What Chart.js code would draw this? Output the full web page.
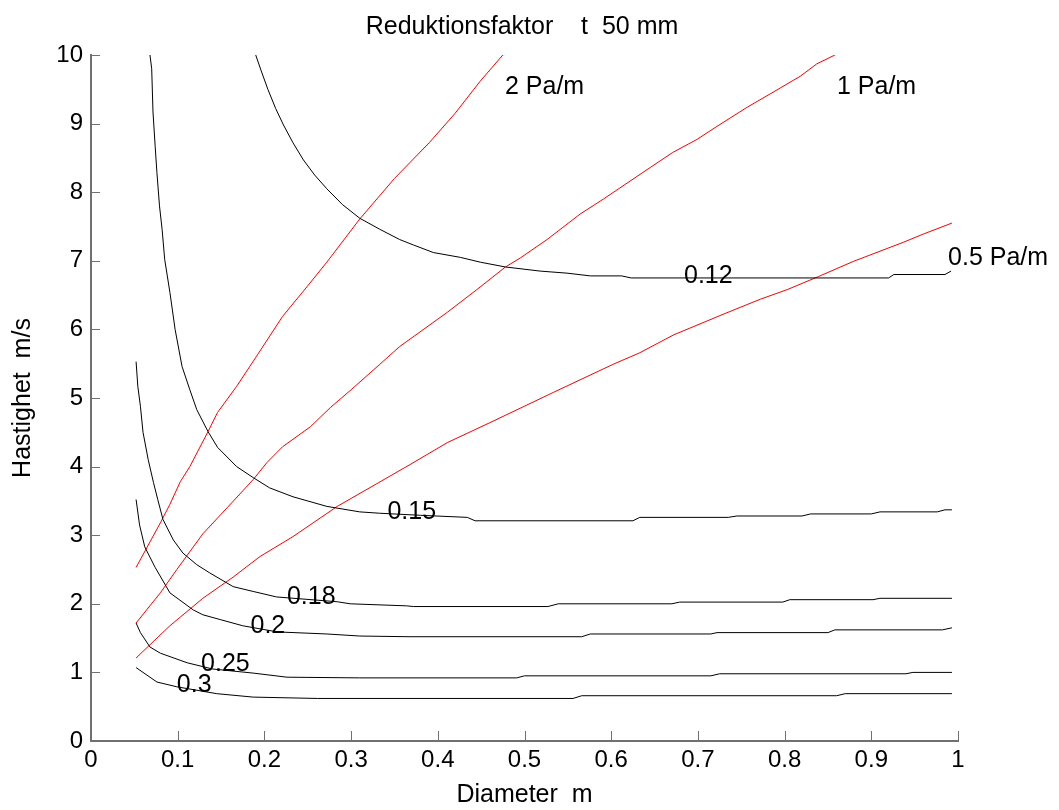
<!DOCTYPE html>
<html>
<head>
<meta charset="utf-8">
<script src="https://cdn.jsdelivr.net/npm/chart.js@4.4.1/dist/chart.umd.min.js"></script>
<style>
  html, body { margin: 0; padding: 0; background: #fff; }
  canvas { display: block; }
</style>
</head>
<body>
<canvas id="chart" width="1059" height="810"></canvas>
<script>
// contour lines, reduction factor (x = diameter m, y = velocity m/s)
const k012 = [[0.190,10],[0.196,9.78],[0.204,9.50],[0.213,9.22],[0.222,8.98],[0.233,8.72],[0.245,8.47],[0.258,8.25],[0.272,8.05],[0.290,7.82],[0.310,7.62],[0.333,7.46],[0.356,7.31],[0.372,7.23],[0.395,7.12],[0.426,7.05],[0.449,6.98],[0.478,6.91],[0.518,6.85],[0.549,6.82],[0.576,6.78],[0.612,6.78],[0.623,6.75],[0.920,6.75],[0.926,6.80],[0.985,6.80],[0.992,6.85]];
const k015 = [[0.068,10],[0.070,9.80],[0.0715,9.17],[0.074,8.67],[0.076,8.29],[0.079,7.80],[0.082,7.46],[0.085,7.02],[0.091,6.54],[0.097,6.0],[0.105,5.46],[0.114,5.12],[0.122,4.83],[0.135,4.51],[0.146,4.28],[0.168,4.0],[0.187,3.84],[0.206,3.69],[0.233,3.56],[0.272,3.42],[0.310,3.34],[0.333,3.32],[0.380,3.29],[0.434,3.26],[0.443,3.21],[0.625,3.21],[0.633,3.26],[0.735,3.26],[0.745,3.28],[0.820,3.28],[0.830,3.31],[0.900,3.31],[0.910,3.34],[0.976,3.34],[0.985,3.37],[0.993,3.37]];
const k018 = [[0.052,5.53],[0.054,5.17],[0.057,4.88],[0.060,4.50],[0.066,4.10],[0.072,3.77],[0.077,3.52],[0.083,3.23],[0.095,2.93],[0.106,2.74],[0.122,2.57],[0.137,2.45],[0.164,2.25],[0.187,2.18],[0.214,2.10],[0.284,2.03],[0.299,2.0],[0.364,1.97],[0.372,1.96],[0.527,1.96],[0.539,2.0],[0.670,2.0],[0.679,2.025],[0.798,2.025],[0.806,2.06],[0.902,2.06],[0.910,2.08],[0.993,2.08]];
const k020 = [[0.052,3.52],[0.056,3.15],[0.062,2.83],[0.074,2.53],[0.091,2.16],[0.118,1.91],[0.129,1.84],[0.149,1.77],[0.175,1.68],[0.215,1.59],[0.272,1.56],[0.310,1.53],[0.368,1.52],[0.566,1.52],[0.576,1.56],[0.715,1.56],[0.722,1.58],[0.850,1.58],[0.858,1.62],[0.982,1.62],[0.993,1.65]];
const k025 = [[0.052,1.72],[0.057,1.58],[0.068,1.37],[0.080,1.28],[0.111,1.14],[0.140,1.05],[0.187,0.99],[0.226,0.93],[0.310,0.92],[0.491,0.92],[0.500,0.95],[0.715,0.95],[0.725,0.98],[0.940,0.98],[0.948,1.0],[0.993,1.0]];
const k030 = [[0.052,1.07],[0.076,0.86],[0.099,0.79],[0.145,0.69],[0.187,0.64],[0.261,0.62],[0.556,0.62],[0.566,0.66],[0.860,0.66],[0.870,0.69],[0.993,0.69]];

// pressure drop lines (red)
const p2 = [[0.052,2.53],[0.080,3.18],[0.091,3.45],[0.103,3.78],[0.114,4.0],[0.135,4.51],[0.146,4.79],[0.168,5.17],[0.191,5.61],[0.221,6.19],[0.249,6.62],[0.272,6.98],[0.310,7.61],[0.350,8.2],[0.390,8.72],[0.420,9.15],[0.449,9.62],[0.475,10]];
const p1 = [[0.052,1.72],[0.080,2.16],[0.099,2.50],[0.129,3.02],[0.157,3.40],[0.187,3.81],[0.203,4.06],[0.221,4.29],[0.253,4.58],[0.276,4.86],[0.300,5.12],[0.333,5.49],[0.356,5.75],[0.411,6.25],[0.445,6.58],[0.478,6.91],[0.495,7.04],[0.526,7.31],[0.564,7.68],[0.591,7.90],[0.645,8.36],[0.671,8.58],[0.699,8.77],[0.722,8.96],[0.757,9.24],[0.787,9.46],[0.818,9.69],[0.837,9.87],[0.858,10]];
const p05 = [[0.052,1.21],[0.091,1.68],[0.129,2.08],[0.164,2.39],[0.195,2.69],[0.233,2.98],[0.284,3.42],[0.335,3.79],[0.368,4.03],[0.411,4.35],[0.460,4.64],[0.533,5.08],[0.602,5.49],[0.633,5.66],[0.672,5.92],[0.729,6.22],[0.772,6.44],[0.803,6.58],[0.839,6.77],[0.879,6.99],[0.910,7.14],[0.937,7.27],[0.960,7.39],[0.993,7.55]];

// in-plot labels: text, x, y (data units)
const contourLabels = [["0.12",0.712,6.77],["0.15",0.370,3.33],["0.18",0.254,2.10],["0.2",0.204,1.68],["0.25",0.155,1.12],["0.3",0.119,0.82]];
const lineLabels = [["2 Pa/m",0.4775,9.53],["1 Pa/m",0.8604,9.53],["0.5 Pa/m",0.9885,7.04]];

const TITLE = "Reduktionsfaktor    t  50 mm";
const FONT = "'Liberation Sans', Arial, Helvetica, sans-serif";
const AXIS = "#707070";

function line(pts, color){
  return {
    data: pts.map(p => ({ x: p[0], y: p[1] })),
    showLine: true, borderColor: color, borderWidth: 1,
    pointRadius: 0, tension: 0, fill: false
  };
}

const overlay = {
  id: "overlay",
  afterDraw(chart){
    const { ctx, chartArea: a, scales: { x, y } } = chart;
    ctx.save();
    // inward tick marks
    ctx.strokeStyle = AXIS;
    ctx.lineWidth = 1;
    ctx.beginPath();
    x.ticks.forEach(t => {
      const px = Math.round(x.getPixelForValue(t.value)) + 0.5;
      ctx.moveTo(px, a.bottom); ctx.lineTo(px, a.bottom - 10);
    });
    y.ticks.forEach(t => {
      const py = Math.round(y.getPixelForValue(t.value)) + 0.5;
      ctx.moveTo(a.left, py); ctx.lineTo(a.left + 9, py);
    });
    ctx.stroke();

    ctx.fillStyle = "#000";
    ctx.textBaseline = "middle";
    ctx.font = "25px " + FONT;
    ctx.textAlign = "center";
    contourLabels.forEach(([s, vx, vy]) => {
      ctx.fillText(s, x.getPixelForValue(vx), y.getPixelForValue(vy));
    });
    ctx.textAlign = "left";
    lineLabels.forEach(([s, vx, vy]) => {
      ctx.fillText(s, x.getPixelForValue(vx), y.getPixelForValue(vy));
    });

    ctx.textAlign = "center";
    ctx.fillText(TITLE, 522, 27);
    ctx.restore();
  }
};

new Chart(document.getElementById("chart"), {
  type: "scatter",
  data: {
    datasets: [
      line(k012, "#000"), line(k015, "#000"), line(k018, "#000"),
      line(k020, "#000"), line(k025, "#000"), line(k030, "#000"),
      line(p2, "#ff0000"), line(p1, "#ff0000"), line(p05, "#ff0000")
    ]
  },
  options: {
    responsive: false,
    animation: false,
    layout: { padding: { top: 55, right: 101, left: 0, bottom: 0 } },
    plugins: { legend: { display: false }, tooltip: { enabled: false }, title: { display: false } },
    scales: {
      x: {
        type: "linear", min: 0, max: 1,
        grid: { display: false, drawTicks: false },
        border: { display: true, color: AXIS, width: 2 },
        ticks: {
          stepSize: 0.1, padding: 5, color: "#000",
          font: { family: FONT, size: 24 },
          callback: v => String(Math.round(v * 10) / 10)
        },
        title: { display: true, text: "Diameter  m", color: "#000", font: { family: FONT, size: 25 }, padding: { top: 0, bottom: 0 } },
        afterFit: s => { s.height = 69; }
      },
      y: {
        type: "linear", min: 0, max: 10,
        grid: { display: false, drawTicks: false },
        border: { display: true, color: AXIS, width: 2 },
        ticks: {
          stepSize: 1, padding: 8, color: "#000",
          font: { family: FONT, size: 24 }
        },
        title: { display: true, text: "Hastighet  m/s", color: "#000", font: { family: FONT, size: 25 }, padding: { top: 8, bottom: 0 } },
        afterFit: s => { s.width = 91; }
      }
    }
  },
  plugins: [overlay]
});
</script>
</body>
</html>
